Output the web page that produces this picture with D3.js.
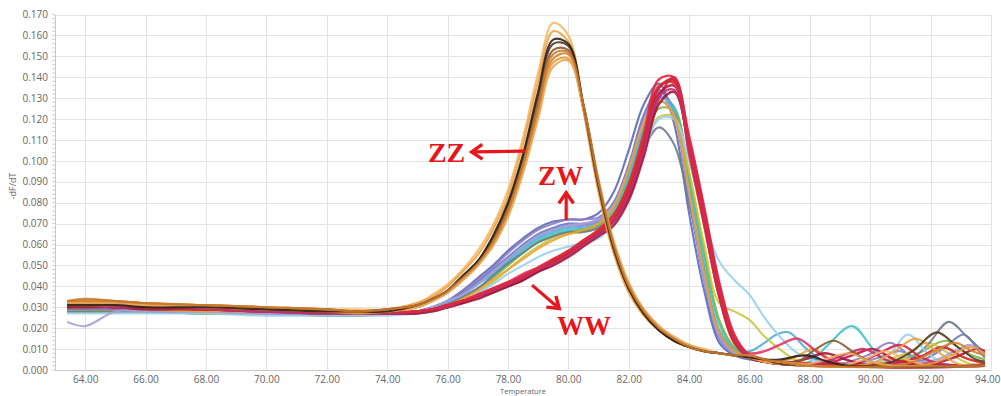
<!DOCTYPE html>
<html>
<head>
<meta charset="utf-8">
<script src="https://cdn.jsdelivr.net/npm/d3@7"></script>
<style>
  body { margin: 0; background: #fff; }
  svg { display: block; font-family: "Open Sans", sans-serif; }
</style>
</head>
<body>
<svg id="chart" width="1001" height="396"></svg>
<script>
// tick values
const xTicks = [64, 66, 68, 70, 72, 74, 76, 78, 80, 82, 84, 86, 88, 90, 92, 94];
const yTicks = d3.range(0, 0.1701, 0.01);

// temperatures shared by the main body of every curve
const bodyTemps = [63.4, 64, 65, 66, 68, 70, 72, 73, 74, 75, 75.5, 76, 76.5, 77, 77.5, 78, 78.5,
  79, 79.5, 80, 80.5, 81, 81.5, 82, 82.5, 83, 83.5, 84, 84.5, 85, 85.5, 86, 86.5];

// -dF/dT values in thousandths
// ZZ group: single peak ~79.7
const zzColors = ['#f6b866', '#f0a040', '#5a3a22', '#8b5a2b', '#d4822a', '#e89a38', '#e8aa5a', '#2e2218', '#c87830'];
const zzValues = [
  [33,33,33,32,31,30,29,29,29,32,36,41,48,57,69,86,111,142,166,160,126,86,57,38,26,19,14,11,9,8,7,6,4],
  [33,33,33,32,31,30,29,28,29,32,35,40,47,55,67,83,108,138,162,157,124,85,56,37,26,19,14,11,9,8,7,6,4],
  [32,32,32,31,30,29,29,28,29,31,34,38,45,52,63,79,102,131,156,155,126,88,58,39,27,19,14,11,9,8,7,7,5],
  [32,32,32,31,30,29,28,28,28,31,34,38,44,51,62,77,99,128,153,153,125,88,59,40,28,20,15,11,9,8,7,7,5],
  [33,33,33,32,31,30,29,28,28,31,33,37,43,50,60,74,96,123,149,151,127,91,61,41,28,20,15,12,9,8,7,7,5],
  [31,31,31,31,30,29,28,27,28,30,33,37,43,50,60,74,95,122,147,149,125,90,61,41,29,21,15,12,9,8,7,6,5],
  [32,32,32,31,30,29,28,28,28,30,33,37,43,50,59,73,94,120,145,148,125,91,62,42,29,21,16,12,10,8,7,7,5],
  [31,31,31,30,30,29,28,28,28,31,34,38,45,52,64,80,103,133,158,156,127,89,59,39,27,19,14,11,9,8,7,6,5],
  [33,34,33,32,31,30,29,28,29,31,34,38,44,51,61,76,98,125,151,152,127,90,60,40,28,20,15,11,9,8,7,7,5]
];
const zzTails = [
  [[87,3],[89,2],[89.8,5],[90.5,9],[91.2,5],[92,2],[93.8,2]],
  [[87,3],[88,2],[90,3],[90.8,9],[91.5,15],[92.2,9],[92.9,3],[93.8,2]],
  [[87,3],[88,2],[90.5,3],[91.4,9],[92.2,18],[92.9,11],[93.5,5],[93.8,4]],
  [[87,4],[87.6,4],[88.2,10],[88.8,14],[89.5,8],[90.2,3],[93.8,2]],
  [[87,4],[88,2],[91.2,3],[92,8],[92.8,13],[93.4,9],[93.8,7]],
  [[87,4],[88,2],[92,3],[92.7,7],[93.3,11],[93.8,8]],
  [[87,4],[88,3],[88.7,6],[89.3,8],[90,4],[90.8,2],[93.8,2]],
  [[87,5],[87.9,7],[88.6,4],[89.3,2],[93.8,2]],
  [[87,4],[88,2],[93.8,2]]
];

// ZW group: shoulder ~80, peak ~83.1
const zwColors = ['#6a78c8', '#5c68b8', '#7b88d0', '#8a7cc0', '#48b0d8', '#40c4c8', '#78b848', '#c8c840',
  '#6e7c8c', '#98d0f0', '#a8a0d8', '#f0a030'];
const zwValues = [
  [29,29,29,29,28,28,27,27,27,28,30,33,37,42,48,54,60,65,68,70,70,72,80,98,122,134,122,82,43,15,8,6,4],
  [29,29,29,28,28,27,27,27,27,28,30,33,38,44,50,57,63,68,71,72,72,75,85,105,127,137,118,75,38,13,7,5,4],
  [28,28,28,28,28,27,27,27,27,28,30,32,36,41,47,53,59,64,67,69,69,71,78,95,118,131,124,86,46,17,8,6,4],
  [29,29,29,28,28,27,27,27,27,28,30,33,38,43,49,56,62,67,70,72,72,73,80,97,121,133,125,88,48,17,8,6,4],
  [28,28,28,28,27,27,27,26,27,28,29,32,36,41,46,52,58,63,66,68,68,70,77,93,116,130,126,90,50,19,10,9,13],
  [28,28,28,28,27,27,26,26,27,28,29,31,35,39,45,51,57,62,65,67,67,69,76,92,114,128,125,92,54,22,10,6,4],
  [28,28,28,28,27,27,27,26,27,27,29,31,34,39,44,50,56,61,64,66,67,69,75,90,111,125,124,94,57,24,11,7,4],
  [28,28,28,28,27,27,27,26,27,27,28,30,33,37,42,48,54,59,63,65,66,68,74,88,107,121,121,95,60,32,28,24,16],
  [28,28,28,28,27,27,26,26,27,28,29,31,35,39,45,51,56,61,64,66,66,68,74,88,106,116,108,80,46,18,9,6,4],
  [27,27,27,27,27,26,26,26,26,27,28,30,33,37,41,46,50,54,57,59,61,63,70,85,104,120,120,100,72,52,43,36,25],
  [23,21,28,28,28,27,27,27,27,28,30,33,36,41,47,53,59,64,67,69,70,72,79,96,119,132,122,84,44,16,8,6,4],
  [30,30,30,29,28,28,27,27,27,28,29,31,34,38,43,48,53,58,62,65,67,70,78,96,118,129,121,86,47,18,9,6,5]
];
const zwTails = [
  [[87,3],[90,3],[91.6,4],[92.4,10],[93.1,17],[93.6,9],[93.8,6]],
  [[87,4],[87.7,7],[88.4,4],[89,2],[93.8,2]],
  [[87,3],[88,3],[89.5,3],[90.3,6],[91,9],[91.6,5],[92.2,2],[93.8,2]],
  [[87,3],[89,3],[89.9,7],[90.65,13],[91.4,6],[92,3],[93.8,2]],
  [[86.9,17],[87.3,18],[87.9,10],[88.5,4],[89.1,3],[93.8,2]],
  [[87,4],[88,4],[88.6,12],[89.4,21],[90.1,10],[90.6,4],[91.5,3],[93.8,2]],
  [[87,4],[88,3],[90.5,3],[91.6,8],[92.5,14],[93.2,8],[93.8,5]],
  [[87,10],[87.5,5],[88,3],[90,3],[91.2,8],[91.9,13],[92.6,8],[93.3,3],[93.8,3]],
  [[87,3],[88,3],[90,3],[91.2,4],[91.9,12],[92.6,23],[93.2,16],[93.8,8]],
  [[87,16],[87.5,9],[88,5],[89,3],[90,3],[90.6,7],[91.25,17],[91.9,8],[92.5,3],[93.8,2]],
  [[87,3],[91,3],[92.2,5],[92.8,9],[93.3,12],[93.8,7]],
  [[87,4],[87.5,6],[88.1,10],[88.7,5],[89.3,2],[93.8,2]]
];

// WW group: slow rise, peak ~83.3
const wwColors = ['#c8143c', '#d81e50', '#b4183a', '#e03868', '#a01838', '#d02828', '#c03070', '#e0283c'];
const wwValues = [
  [31,31,30,30,29,28,28,27,27,28,29,31,33,35,38,41,44,48,52,56,61,66,72,85,108,135,139,106,72,37,14,6,4],
  [31,31,31,30,29,29,28,27,27,28,29,31,33,35,38,41,44,48,52,56,60,65,71,83,104,130,140,112,78,42,17,7,4],
  [30,31,30,30,29,28,28,27,27,28,29,30,32,35,37,40,43,47,51,55,60,65,71,84,106,132,136,105,71,36,14,6,4],
  [31,31,31,30,29,28,28,27,27,28,29,31,33,36,39,42,46,49,53,57,62,67,74,88,111,136,137,103,69,35,13,8,9],
  [30,30,30,29,29,28,27,27,27,27,28,30,32,34,37,40,43,47,50,54,59,64,69,81,102,127,133,108,75,39,15,6,4],
  [31,31,31,30,29,28,28,27,27,28,29,31,33,35,38,41,45,48,52,56,61,66,72,86,109,135,138,105,70,35,13,6,4],
  [31,31,30,30,29,28,27,27,27,28,29,30,33,35,38,41,44,48,51,55,60,65,71,84,105,131,134,106,73,38,15,6,4],
  [32,32,31,31,30,29,28,28,28,28,29,31,33,36,39,42,45,49,53,57,62,67,74,89,113,139,140,109,75,40,16,7,4]
];
const wwTails = [
  [[87,3],[88.5,3],[89.4,7],[90.1,10],[90.8,5],[91.5,3],[93.8,2]],
  [[87,4],[88,3],[89.5,3],[90.3,8],[91,12],[91.7,6],[92.3,3],[93.8,2]],
  [[87,3],[92,3],[92.8,6],[93.5,10],[93.8,9]],
  [[87,12],[87.6,15],[88.3,8],[89,3],[93.8,2]],
  [[87,3],[87.8,5],[88.5,8],[89.2,5],[90,2],[93.8,2]],
  [[87,3],[90.5,3],[91.6,6],[92.4,11],[93.1,6],[93.8,3]],
  [[87,3],[88.3,3],[89.1,7],[89.8,10],[90.5,5],[91.2,2],[93.8,2]],
  [[87,3],[88,2],[93.8,2]]
];

const svg = d3.select('#chart');
const x = d3.scaleLinear().domain([63, 94]).range([55, 991]);
const y = d3.scaleLinear().domain([0, 0.17]).range([370, 14.5]);

// grid
const grid = svg.append('g').attr('stroke', '#e3e3e3').attr('stroke-width', 1);
grid.selectAll('.h').data(yTicks).enter().append('line')
  .attr('x1', x(63)).attr('x2', x(94))
  .attr('y1', d => Math.round(y(d)) + 0.5).attr('y2', d => Math.round(y(d)) + 0.5);
grid.selectAll('.v').data(xTicks).enter().append('line')
  .attr('y1', y(0.17)).attr('y2', y(0))
  .attr('x1', d => Math.round(x(d)) + 0.5).attr('x2', d => Math.round(x(d)) + 0.5);

// axes
const yAxis = svg.append('g')
  .attr('transform', `translate(${x(63)},0)`)
  .call(d3.axisLeft(y).tickValues(yTicks).tickFormat(d3.format('.3f')).tickSize(0).tickPadding(7));
const xAxis = svg.append('g')
  .attr('transform', `translate(0,${y(0)})`)
  .call(d3.axisBottom(x).tickValues(xTicks).tickFormat(d3.format('.2f')).tickSize(0).tickPadding(6));
[yAxis, xAxis].forEach(a => {
  a.select('.domain').attr('stroke', '#c8c8c8');
  a.selectAll('text').attr('fill', '#666').style('font-size', '10px').style('font-family', '"Open Sans", sans-serif');
});
// last x label would run past the window edge
xAxis.selectAll('.tick').filter(d => d === 94).select('text').attr('text-anchor', 'end').attr('x', 9);

// minor ticks along the y axis
svg.append('g').attr('stroke', '#d0d0d0')
  .selectAll('line').data(d3.range(0, 0.1701, 0.002)).enter().append('line')
  .attr('x1', x(63) - 3).attr('x2', x(63))
  .attr('y1', d => y(d)).attr('y2', d => y(d));

svg.append('text')
  .attr('transform', `translate(16,${y(0.088)}) rotate(-90)`)
  .attr('text-anchor', 'middle').attr('fill', '#666').style('font-size', '9px')
  .text('-dF/dT');
svg.append('text')
  .attr('x', x(78.5)).attr('y', 394)
  .attr('text-anchor', 'middle').attr('fill', '#666').style('font-size', '7.5px')
  .text('Temperature');

// curves
svg.append('clipPath').attr('id', 'plot')
  .append('rect').attr('x', x(63)).attr('y', y(0.17)).attr('width', x(94) - x(63)).attr('height', y(0) - y(0.17));

const line = d3.line()
  .x(d => x(d[0]))
  .y(d => y(d[1] / 1000))
  .curve(d3.curveCatmullRom.alpha(0.5));

function curvePoints(vals, tail) {
  return bodyTemps.map((t, i) => [t, vals[i]]).concat(tail);
}

const plot = svg.append('g').attr('clip-path', 'url(#plot)').attr('fill', 'none');
[[zwValues, zwTails, zwColors, 2.1], [wwValues, wwTails, wwColors, 2.4], [zzValues, zzTails, zzColors, 2.1]]
  .forEach(([vals, tails, colors, w]) => {
    plot.append('g').selectAll('path')
      .data(vals.map((v, i) => ({ pts: curvePoints(v, tails[i]), color: colors[i] })))
      .enter().append('path')
      .attr('d', d => line(d.pts))
      .attr('stroke', d => d.color)
      .attr('stroke-width', w)
      .attr('stroke-opacity', 0.9)
      .attr('stroke-linejoin', 'round');
  });

// annotations
const red = '#e8161b';
function arrow(t1, v1, t2, v2) {
  const x1 = x(t1), y1 = y(v1), x2 = x(t2), y2 = y(v2);
  const a = Math.atan2(y2 - y1, x2 - x1);
  const len = 13, spread = 0.6;
  svg.append('line').attr('x1', x1).attr('y1', y1).attr('x2', x2).attr('y2', y2)
    .attr('stroke', red).attr('stroke-width', 3.2);
  const p = [
    [x2 - len * Math.cos(a - spread), y2 - len * Math.sin(a - spread)],
    [x2, y2],
    [x2 - len * Math.cos(a + spread), y2 - len * Math.sin(a + spread)]
  ];
  svg.append('path').attr('d', d3.line()(p)).attr('fill', 'none')
    .attr('stroke', red).attr('stroke-width', 3.4).attr('stroke-linejoin', 'miter');
}
function label(txt, t, v, size) {
  svg.append('text').attr('x', x(t)).attr('y', y(v))
    .attr('fill', red).style('font-family', '"Liberation Serif", serif')
    .style('font-weight', 'bold').style('font-size', size + 'px').text(txt);
}
label('ZZ', 75.35, 0.0995, 28);
arrow(78.57, 0.1047, 76.8, 0.1043);
label('ZW', 79.0, 0.0885, 27);
arrow(79.93, 0.0717, 79.93, 0.0848);
label('WW', 79.63, 0.0167, 27);
arrow(78.8, 0.0406, 79.7, 0.0294);
</script>
</body>
</html>
